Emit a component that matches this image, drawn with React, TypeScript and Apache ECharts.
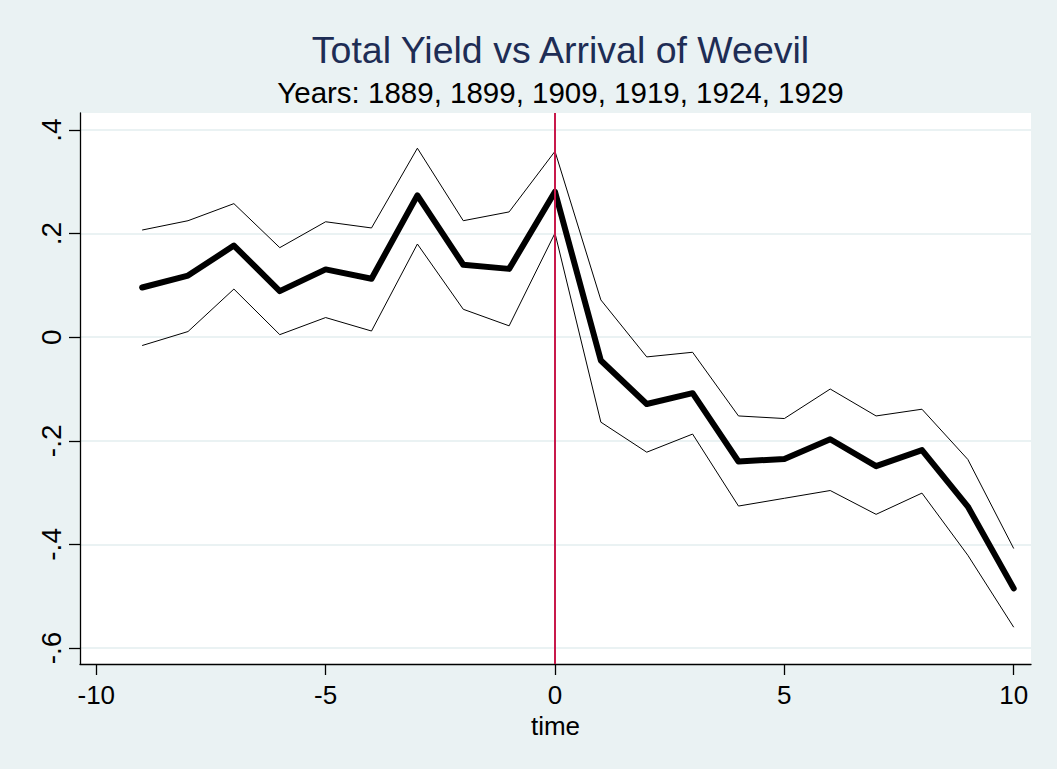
import React, { useEffect, useRef } from "react";
import * as echarts from "echarts";

const times = [-9, -8, -7, -6, -5, -4, -3, -2, -1, 0, 1, 2, 3, 4, 5, 6, 7, 8, 9, 10];
const estimate = [0.096, 0.119, 0.177, 0.089, 0.131, 0.113, 0.274, 0.140, 0.132, 0.281, -0.045, -0.129, -0.108, -0.240, -0.235, -0.197, -0.249, -0.218, -0.327, -0.485];
const upperCI = [0.207, 0.225, 0.258, 0.173, 0.223, 0.211, 0.365, 0.225, 0.242, 0.359, 0.072, -0.038, -0.029, -0.152, -0.157, -0.100, -0.152, -0.139, -0.236, -0.408];
const lowerCI = [-0.016, 0.011, 0.093, 0.005, 0.038, 0.012, 0.180, 0.054, 0.022, 0.201, -0.164, -0.222, -0.187, -0.326, -0.311, -0.296, -0.342, -0.301, -0.421, -0.560];
const xTicks = [-10, -5, 0, 5, 10];
const yTicks = [-0.6, -0.4, -0.2, 0, 0.2, 0.4];
const eventTime = 0;

const titleText = "Total Yield vs Arrival of Weevil";
const subtitleText = "Years: 1889, 1899, 1909, 1919, 1924, 1929";

const fmtY = (v: number) => {
  if (Math.abs(v) < 1e-9) return "0";
  const s = v.toFixed(1);
  return s.replace(/^(-?)0\./, "$1.");
};

const pairs = (ys: number[]) => times.map((t, i) => [t, ys[i]]);

export default function App() {
  const ref = useRef<HTMLDivElement>(null);
  useEffect(() => {
    if (!ref.current) return;
    const chart = echarts.init(ref.current, undefined, { renderer: "svg" });
    const font = "Arial, 'Liberation Sans', Helvetica, sans-serif";
    chart.setOption({
      animation: false,
      backgroundColor: "#EAF2F3",
      textStyle: { fontFamily: font },
      title: [
        {
          text: titleText,
          left: 555.5,
          textAlign: "center",
          top: 26,
          textStyle: { fontSize: 37.5, fontWeight: "normal", color: "#1E2D55", fontFamily: font },
        },
        {
          text: subtitleText,
          left: 555.5,
          textAlign: "center",
          top: 72,
          textStyle: { fontSize: 29.5, fontWeight: "normal", color: "#000000", fontFamily: font },
        },
      ],
      grid: {
        left: 80,
        right: 26,
        top: 113,
        bottom: 105,
        show: true,
        backgroundColor: "#FFFFFF",
        borderWidth: 0,
      },
      xAxis: {
        type: "value",
        min: -10.355,
        max: 10.377,
        name: "time",
        nameLocation: "middle",
        nameGap: 45,
        nameTextStyle: { fontSize: 26, color: "#000", fontFamily: font },
        axisLine: { show: true, onZero: false, lineStyle: { color: "#000", width: 1.3 } },
        axisTick: { show: true, length: 11, customValues: xTicks, lineStyle: { color: "#000", width: 1.3 } },
        axisLabel: { customValues: xTicks, fontSize: 26, color: "#000", margin: 18, fontFamily: font },
        splitLine: { show: false },
      },
      yAxis: {
        type: "value",
        min: -0.631,
        max: 0.433,
        axisLine: { show: true, onZero: false, lineStyle: { color: "#000", width: 1.3 } },
        axisTick: { show: true, length: 11, customValues: yTicks, lineStyle: { color: "#000", width: 1.3 } },
        axisLabel: {
          customValues: yTicks,
          rotate: 90,
          fontSize: 28,
          color: "#000",
          margin: 15,
          fontFamily: font,
          formatter: (v: number) => fmtY(v),
        },
        splitLine: { show: true, lineStyle: { color: "#EAF2F3", width: 2 } },
      },
      series: [
        {
          name: "Upper CI",
          type: "line",
          data: pairs(upperCI),
          showSymbol: false,
          z: 3,
          lineStyle: { color: "#000", width: 1 },
        },
        {
          name: "Lower CI",
          type: "line",
          data: pairs(lowerCI),
          showSymbol: false,
          z: 3,
          lineStyle: { color: "#000", width: 1 },
        },
        {
          name: "Estimate",
          type: "line",
          data: pairs(estimate),
          showSymbol: false,
          z: 4,
          lineStyle: { color: "#000", width: 6, cap: "round", join: "round" },
        },
        {
          name: "event",
          type: "line",
          data: [],
          z: 5,
          silent: true,
          markLine: {
            silent: true,
            symbol: "none",
            label: { show: false },
            lineStyle: { color: "#C8194B", width: 2, type: "solid" },
            data: [{ xAxis: eventTime }],
          },
        },
      ],
    });
    return () => chart.dispose();
  }, []);
  return (
    <div
      ref={ref}
      style={{ position: "fixed", left: 0, top: 0, width: 1057, height: 769 }}
    />
  );
}
